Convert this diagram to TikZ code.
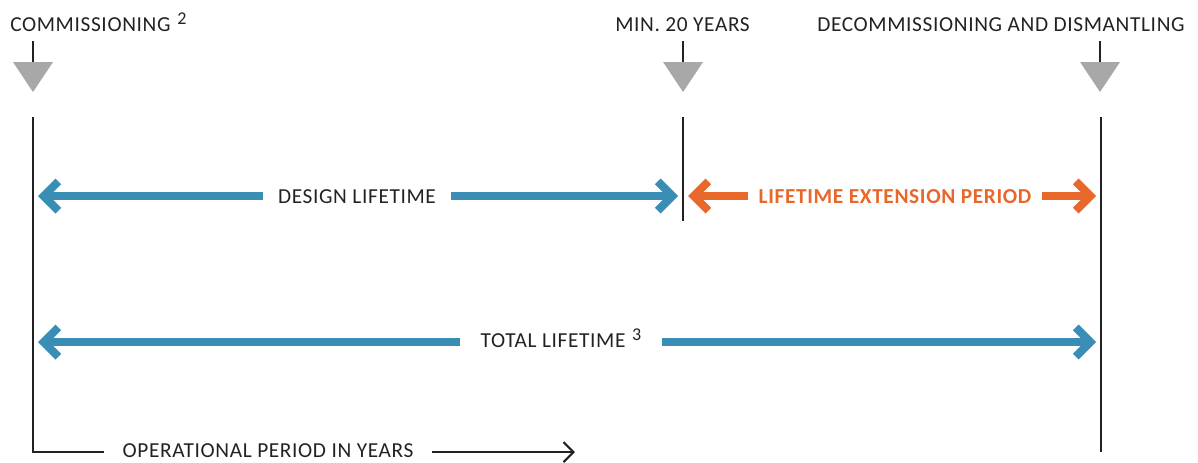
\documentclass[tikz,border=0pt]{standalone}
\usepackage{fontspec}
\setmainfont{Carlito}[LetterSpace=3]
\usetikzlibrary{arrows.meta}
\definecolor{lblue}{HTML}{3A8DB4}
\definecolor{lorange}{HTML}{E8672A}
\definecolor{lgray}{HTML}{A8A8A8}
\definecolor{ltext}{HTML}{222222}
\newcommand\supnum[1]{\hspace{5pt}\raisebox{4.6pt}{\fontsize{13.5}{14}\selectfont #1}}
\begin{document}
\begin{tikzpicture}[x=0.75pt,y=-0.75pt,
  lbl/.style={font=\fontsize{16}{19}\selectfont, text=ltext, inner sep=0pt},
  vline/.style={draw=ltext, line width=2pt},
  tick/.style={draw=ltext, line width=2pt},
  marker/.style={fill=lgray, draw=none},
  bluearrow/.style={draw=lblue, line width=6pt, -{Straight Barb[length=11pt, width=22pt]}},
  orangearrow/.style={draw=lorange, line width=6pt, -{Straight Barb[length=11pt, width=22pt]}},
  thinarrow/.style={draw=ltext, line width=1.6pt, -{Straight Barb[length=7.5pt, width=15pt]}}
]
\useasboundingbox (0,0) rectangle (1198,462);

% top labels
\node[lbl, anchor=base west] (lcom) at (10,31) {COMMISSIONING\supnum{2}};
\node[lbl, anchor=base west] (lmin) at (615,31) {MIN. 20 YEARS};
\node[lbl, anchor=base west] (ldec) at (817,31) {DECOMMISSIONING AND DISMANTLING};

% ticks and markers
\foreach \x in {33,683,1100} {
  \draw[tick] (\x,41) -- (\x,62);
  \fill[marker] (\x-20,62) -- (\x+20,62) -- (\x,92) -- cycle;
}

% vertical lines
\coordinate (opend) at (575,452);
\node[lbl, anchor=base, inner xsep=13.5pt] (opl) at (268,457) {OPERATIONAL PERIOD IN YEARS};
\draw[vline] (33,117) -- (33,452) -- (opl.west |- opend);
\draw[thinarrow] (opl.east |- opend) -- (opend);
\draw[vline] (683,117) -- (683,221);
\draw[vline] (1101,117) -- (1101,452);

% design lifetime
\coordinate (d1) at (38,196);
\coordinate (d2) at (678,196);
\node[lbl, anchor=base, inner xsep=11pt] (dl) at (357,203) {DESIGN LIFETIME};
\draw[bluearrow] (dl.west |- d1) -- (d1);
\draw[bluearrow] (dl.east |- d2) -- (d2);

% extension period
\coordinate (e1) at (688,196);
\coordinate (e2) at (1096,196);
\node[lbl, anchor=base, inner xsep=7.5pt, text=lorange, font=\fontsize{16}{19}\selectfont\bfseries] (el) at (895,203) {LIFETIME EXTENSION PERIOD};
\draw[orangearrow] (el.west |- e1) -- (e1);
\draw[orangearrow] (el.east |- e2) -- (e2);

% total lifetime
\coordinate (t1) at (38,342);
\coordinate (t2) at (1096,342);
\node[lbl, anchor=base, inner xsep=15pt] (tl) at (561,347) {TOTAL LIFETIME\supnum{3}};
\draw[bluearrow] (tl.west |- t1) -- (t1);
\draw[bluearrow] (tl.east |- t2) -- (t2);
\end{tikzpicture}
\end{document}
